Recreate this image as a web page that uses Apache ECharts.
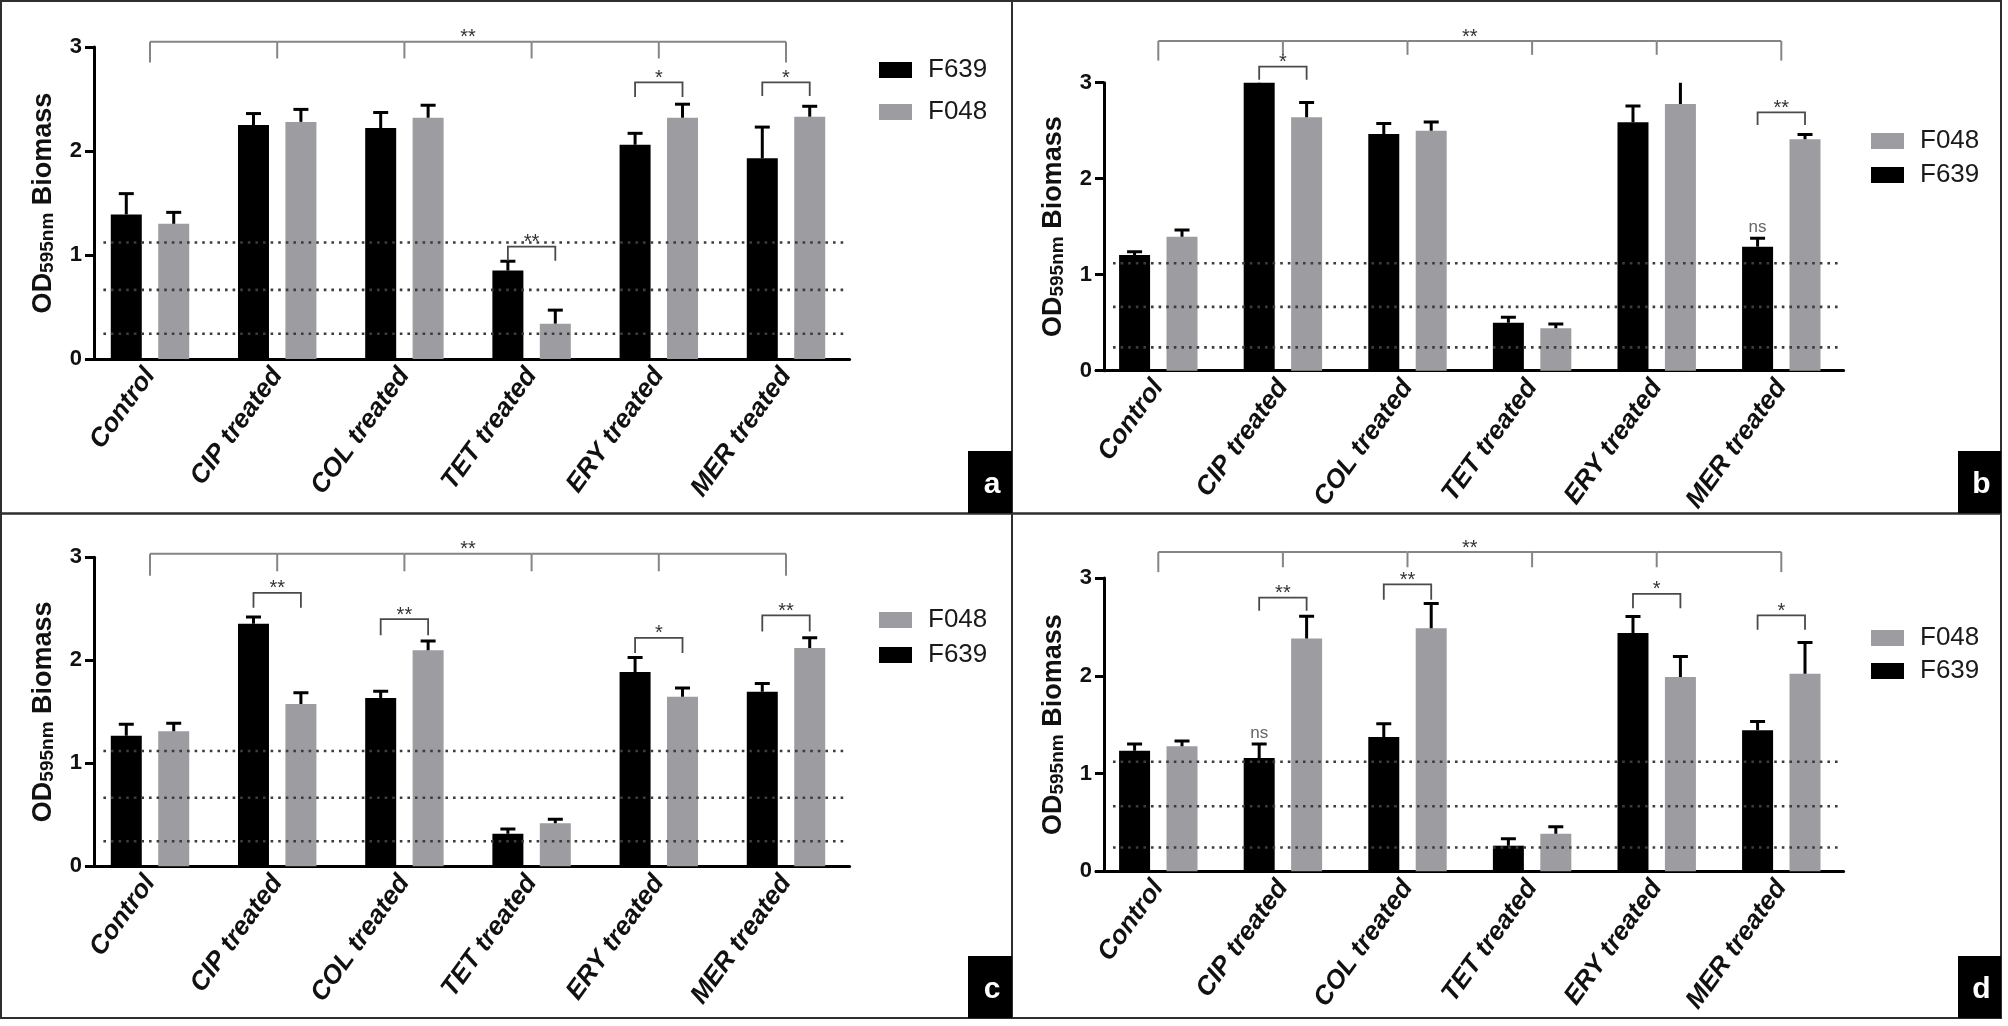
<!DOCTYPE html>
<html><head><meta charset="utf-8">
<script src="https://cdn.jsdelivr.net/npm/echarts@6/dist/echarts.min.js"></script>
<style>html,body{margin:0;padding:0;background:#fff}#chart{width:2008px;height:1026px}</style>
</head><body><div id="chart"></div>
<script>
// ---------------- data ----------------
const categories = ['Control', 'CIP treated', 'COL treated', 'TET treated', 'ERY treated', 'MER treated'];
const yTicks = [0, 1, 2, 3];
const thresholds = [1.12, 0.665, 0.243];

// panel a
const f639_a = [1.39, 2.25, 2.22, 0.85, 2.06, 1.93];
const f639Err_a = [0.20, 0.11, 0.15, 0.09, 0.11, 0.30];
const f048_a = [1.30, 2.28, 2.32, 0.34, 2.32, 2.33];
const f048Err_a = [0.11, 0.12, 0.12, 0.13, 0.13, 0.10];
const topBracket_a = [3.05, 2.85, 2.89];            // bar level, end legs, middle legs
const pairBrackets_a = [[3, 1.08, 0.945, '**'], [4, 2.66, 2.52, '*'], [5, 2.66, 2.53, '*']];
const nsMarks_a = [];
const legendOrder_a = ['F639', 'F048'];

// panel b
const f639_b = [1.205, 3.0, 2.466, 0.50, 2.588, 1.292];
const f639Err_b = [0.035, 0.10, 0.11, 0.056, 0.17, 0.087];
const f048_b = [1.396, 2.64, 2.50, 0.442, 2.778, 2.41];
const f048Err_b = [0.07, 0.155, 0.09, 0.045, 0.30, 0.05];
const topBracket_b = [3.434, 3.23, 3.29];
const pairBrackets_b = [[1, 3.167, 3.03, '*'], [5, 2.69, 2.56, '**']];
const nsMarks_b = [5];
const legendOrder_b = ['F048', 'F639'];

// panel c
const f639_c = [1.268, 2.355, 1.634, 0.317, 1.886, 1.695];
const f639Err_c = [0.11, 0.065, 0.065, 0.045, 0.14, 0.08];
const f048_c = [1.31, 1.576, 2.097, 0.417, 1.647, 2.119];
const f048Err_c = [0.08, 0.11, 0.09, 0.04, 0.085, 0.10];
const topBracket_c = [3.035, 2.82, 2.864];
const pairBrackets_c = [[1, 2.654, 2.51, '**'], [2, 2.40, 2.243, '**'], [4, 2.217, 2.07, '*'], [5, 2.437, 2.28, '**']];
const nsMarks_c = [];
const legendOrder_c = ['F048', 'F639'];

// panel d
const f639_d = [1.233, 1.158, 1.373, 0.262, 2.437, 1.442];
const f639Err_d = [0.07, 0.145, 0.135, 0.07, 0.17, 0.09];
const f048_d = [1.278, 2.38, 2.485, 0.385, 1.987, 2.02];
const f048Err_d = [0.055, 0.23, 0.255, 0.07, 0.21, 0.32];
const topBracket_d = [3.265, 3.06, 3.11];
const pairBrackets_d = [[1, 2.80, 2.665, '**'], [2, 2.934, 2.777, '**'], [4, 2.838, 2.69, '*'], [5, 2.617, 2.47, '*']];
const nsMarks_d = [1];
const legendOrder_d = ['F048', 'F639'];

const panelLetters = ['a', 'b', 'c', 'd'];

// ---------------- layout & style ----------------
const FONT = "'Liberation Sans', Arial, Helvetica, sans-serif";
const BLACK = '#000000', GRAY = '#9d9da1';
const BAR_W = 31, BAR_GAP = 0.53;
const BAR_SHIFT = (BAR_W + BAR_W * BAR_GAP) / 2;

const panels = [
  {f639: f639_a, e639: f639Err_a, f048: f048_a, e048: f048Err_a, top: topBracket_a, pairs: pairBrackets_a, ns: nsMarks_a, order: legendOrder_a},
  {f639: f639_b, e639: f639Err_b, f048: f048_b, e048: f048Err_b, top: topBracket_b, pairs: pairBrackets_b, ns: nsMarks_b, order: legendOrder_b},
  {f639: f639_c, e639: f639Err_c, f048: f048_c, e048: f048Err_c, top: topBracket_c, pairs: pairBrackets_c, ns: nsMarks_c, order: legendOrder_c},
  {f639: f639_d, e639: f639Err_d, f048: f048_d, e048: f048Err_d, top: topBracket_d, pairs: pairBrackets_d, ns: nsMarks_d, order: legendOrder_d}
];
const layout = [
  {grid: {left: 86.4, top: 47, width: 763.2, height: 312}, yOffset: -7.6, legend: {left: 879, top: 57, itemGap: 16}, box: [968, 451, 44, 62]},
  {grid: {left: 1096, top: 82.7, width: 747.6, height: 288}, yOffset: -8, legend: {left: 1871, top: 128, itemGap: 8}, box: [1958, 451, 43, 62]},
  {grid: {left: 86.4, top: 557.3, width: 763.2, height: 309}, yOffset: -7.6, legend: {left: 879, top: 607, itemGap: 9}, box: [968, 956, 44, 62]},
  {grid: {left: 1096, top: 578, width: 747.6, height: 293.3}, yOffset: -8, legend: {left: 1871, top: 625, itemGap: 7}, box: [1958, 956, 43, 62]}
];

const grids = [], xAxes = [], yAxes = [], legends = [], series = [];

function errorSeries(i, vals, errs, side) {
  return {
    type: 'custom', name: 'err' + i + side, xAxisIndex: i, yAxisIndex: i, clip: true, z: 4,
    data: vals.map((v, k) => [k, v, errs[k]]),
    encode: {x: 0, y: 1},
    renderItem(params, api) {
      const base = api.coord([api.value(0), api.value(1)]);
      const top = api.coord([api.value(0), api.value(1) + api.value(2)]);
      const cx = base[0] + side * BAR_SHIFT;
      return {type: 'group', children: [
        {type: 'line', shape: {x1: cx, y1: base[1], x2: cx, y2: top[1]}, style: {stroke: '#000', lineWidth: 3}},
        {type: 'line', shape: {x1: cx - 7.5, y1: top[1], x2: cx + 7.5, y2: top[1]}, style: {stroke: '#000', lineWidth: 3}}
      ]};
    }
  };
}

panels.forEach((p, i) => {
  const L = layout[i];
  grids.push(Object.assign({containLabel: false}, L.grid));
  xAxes.push({
    type: 'category', gridIndex: i, data: categories, boundaryGap: true,
    axisLine: {lineStyle: {color: '#000', width: 3}},
    axisTick: {alignWithLabel: true, length: 10, lineStyle: {width: 3, color: '#000'}},
    axisLabel: {rotate: 54, margin: 12, fontSize: 26, fontWeight: 'bold', fontStyle: 'italic', fontFamily: FONT, color: '#111', interval: 0},
    splitLine: {show: false}
  });
  yAxes.push({
    type: 'value', gridIndex: i, min: yTicks[0], max: yTicks[yTicks.length - 1], interval: yTicks[1] - yTicks[0], offset: L.yOffset,
    axisLine: {show: true, lineStyle: {color: '#000', width: 3}},
    axisTick: {show: true, length: 9, lineStyle: {width: 3, color: '#000'}},
    axisLabel: {fontSize: 22, fontWeight: 'bold', color: '#111', margin: 12, fontFamily: FONT},
    splitLine: {show: false},
    name: '{m|OD}{s|595nm}{m| Biomass}', nameLocation: 'middle', nameGap: 37, nameRotate: 90,
    nameTextStyle: {rich: {
      m: {fontSize: 27, fontWeight: 'bold', fontFamily: FONT, color: '#111'},
      s: {fontSize: 19, fontWeight: 'bold', fontFamily: FONT, color: '#111', verticalAlign: 'bottom'}
    }}
  });
  legends.push({
    orient: 'vertical', left: L.legend.left, top: L.legend.top, itemGap: L.legend.itemGap, padding: 0,
    itemWidth: 33, itemHeight: 16, icon: 'rect', data: p.order, selectedMode: false,
    textStyle: {fontSize: 26, fontFamily: FONT, color: '#1a1a1a', lineHeight: 16, padding: [0, 0, 0, 11]}
  });
  series.push({
    type: 'bar', name: 'F639', xAxisIndex: i, yAxisIndex: i, data: p.f639,
    barWidth: BAR_W, barGap: (BAR_GAP * 100) + '%', itemStyle: {color: BLACK}, z: 2
  });
  series.push({
    type: 'bar', name: 'F048', xAxisIndex: i, yAxisIndex: i, data: p.f048,
    barWidth: BAR_W, barGap: (BAR_GAP * 100) + '%', itemStyle: {color: GRAY}, z: 2
  });
  series.push({
    type: 'custom', name: 'thr' + i, xAxisIndex: i, yAxisIndex: i, z: 3,
    data: thresholds.map(v => [0, v]), encode: {x: 0, y: 1},
    renderItem(params, api) {
      const cs = params.coordSys;
      const y = api.coord([0, api.value(1)])[1];
      return {type: 'line', shape: {x1: cs.x + 17, y1: y, x2: cs.x + cs.width - 4, y2: y},
        style: {stroke: '#3c3c3c', lineWidth: 2.6, lineDash: [2.6, 5]}};
    }
  });
  series.push(errorSeries(i, p.f639, p.e639, -1));
  series.push(errorSeries(i, p.f048, p.e048, 1));
  const last = categories.length - 1;
  series.push({
    type: 'custom', name: 'top' + i, xAxisIndex: i, yAxisIndex: i, clip: false, z: 4,
    data: categories.map((c, k) => [k, p.top[0], (k === 0 || k === last) ? p.top[1] : p.top[2]]),
    encode: {x: 0, y: 1},
    renderItem(params, api) {
      const k = api.value(0);
      const a = api.coord([k, api.value(1)]);
      const d = api.coord([k, api.value(2)]);
      const ch = [{type: 'line', shape: {x1: a[0], y1: a[1], x2: d[0], y2: d[1]}, style: {stroke: '#858585', lineWidth: 2}}];
      if (k < last) {
        const n = api.coord([k + 1, api.value(1)]);
        ch.push({type: 'line', shape: {x1: a[0], y1: a[1], x2: n[0], y2: n[1]}, style: {stroke: '#858585', lineWidth: 2}});
      }
      if (k === 0) {
        const e = api.coord([last, api.value(1)]);
        ch.push({type: 'text', style: {text: '**', x: (a[0] + e[0]) / 2, y: a[1] - 4, fill: '#333', font: '20px ' + FONT, align: 'center', verticalAlign: 'middle'}});
      }
      return {type: 'group', children: ch};
    }
  });
  series.push({
    type: 'custom', name: 'pair' + i, xAxisIndex: i, yAxisIndex: i, clip: false, z: 4,
    data: p.pairs.map(b => [b[0], b[1], b[2]]), encode: {x: 0, y: 1},
    renderItem(params, api) {
      const k = api.value(0);
      const t = api.coord([k, api.value(1)]);
      const g = api.coord([k, api.value(2)]);
      const lx = t[0] - BAR_SHIFT, rx = t[0] + BAR_SHIFT;
      return {type: 'group', children: [
        {type: 'polyline', shape: {points: [[lx, g[1]], [lx, t[1]], [rx, t[1]], [rx, g[1]]]}, style: {stroke: '#4a4a4a', lineWidth: 1.8, fill: 'none'}},
        {type: 'text', style: {text: p.pairs[params.dataIndex][3], x: t[0], y: t[1] - 4, fill: '#333', font: '20px ' + FONT, align: 'center', verticalAlign: 'middle'}}
      ]};
    }
  });
  if (p.ns.length) {
    series.push({
      type: 'custom', name: 'ns' + i, xAxisIndex: i, yAxisIndex: i, clip: false, z: 4,
      data: p.ns.map(k => [k, p.f639[k] + p.e639[k]]), encode: {x: 0, y: 1},
      renderItem(params, api) {
        const c = api.coord([api.value(0), api.value(1)]);
        return {type: 'text', style: {text: 'ns', x: c[0] - BAR_SHIFT, y: c[1] - 11, fill: '#666', font: '17px ' + FONT, align: 'center', verticalAlign: 'middle'}};
      }
    });
  }
});

const FRAME = '#2e2e2e';
const graphic = [
  {type: 'rect', shape: {x: 1, y: 1, width: 2000, height: 1017}, style: {fill: 'none', stroke: FRAME, lineWidth: 2}, z: 10},
  {type: 'line', shape: {x1: 1012, y1: 0, x2: 1012, y2: 1018}, style: {stroke: FRAME, lineWidth: 2}, z: 10},
  {type: 'line', shape: {x1: 0, y1: 513.5, x2: 2001, y2: 513.5}, style: {stroke: FRAME, lineWidth: 2.5}, z: 10}
];
layout.forEach((L, i) => {
  const [bx, by, bw, bh] = L.box;
  graphic.push({type: 'rect', shape: {x: bx, y: by, width: bw, height: bh}, style: {fill: '#000'}, z: 11});
  graphic.push({type: 'text', style: {text: panelLetters[i], x: bx + bw / 2 + 2, y: by + bh / 2 + 3, fill: '#fff', font: 'bold 30px ' + FONT, align: 'center', verticalAlign: 'middle'}, z: 12});
});

const chart = echarts.init(document.getElementById('chart'), null, {renderer: 'canvas'});
chart.setOption({
  animation: false,
  backgroundColor: '#ffffff',
  grid: grids, xAxis: xAxes, yAxis: yAxes, legend: legends, series: series, graphic: graphic
});
</script></body></html>
